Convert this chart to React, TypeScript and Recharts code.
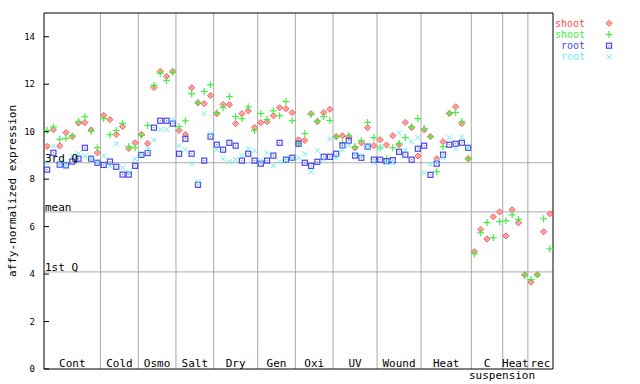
import React from "react";
import { ScatterChart, Scatter, XAxis, YAxis, ReferenceLine } from "recharts";

const GROUP_LABELS = ["Cont", "Cold", "Osmo", "Salt", "Dry", "Gen", "Oxi", "UV", "Wound", "Heat", "C suspension", "Heat", "rec"];
const GROUP_SIZES = [9, 6, 6, 6, 7, 6, 6, 7, 7, 8, 5, 4, 4];

const SHOOT_A = [
  9.38, 10.08, 9.4, 9.96, 9.79, 10.36, 10.38, 10.07, 9.11,
  10.69, 10.51, 9.88, 10.22, 9.29, 9.53,
  9.88, 9.5, 11.86, 12.54, 12.33, 12.54,
  10.05, 9.88, 11.85, 11.22, 11.18, 11.52,
  10.76, 11.14, 11.14, 10.34, 10.76, 10.88, 10.17,
  10.38, 10.42, 10.67, 11.01, 10.97, 10.8,
  9.66, 9.63, 10.76, 10.43, 10.8, 10.94,
  9.79, 9.83, 9.79, 9.32, 9.53, 10.17, 9.41,
  9.66, 9.44, 9.83, 9.45, 10.39, 10.17, 8.97,
  10.08, 9.79, 8.86, 9.58, 10.77, 11.05, 10.34, 8.86,
  4.94, 5.88, 5.48, 6.41, 6.62,
  5.61, 6.71, 6.16, 3.97,
  3.66, 3.97, 5.78, 6.54,
];
const SHOOT_B = [
  10.05, 10.2, 9.68, 9.72, 9.83, 10.43, 10.63, 10.02, 9.32,
  10.55, 9.87, 10.05, 10.35, 9.37, 9.32,
  9.84, 10.26, 11.95, 12.46, 12.16, 12.5,
  10.21, 10.46, 11.6, 11.22, 11.69, 11.98,
  10.8, 11.01, 11.48, 10.63, 10.55, 11.05, 10.04,
  10.76, 10.51, 10.88, 10.67, 11.27, 10.46,
  9.49, 9.92, 10.73, 10.44, 10.64, 10.47,
  9.79, 9.53, 9.83, 9.37, 9.62, 10.39, 9.75,
  9.32, 8.86, 9.32, 9.5, 9.75, 10.21, 10.55,
  10.13, 9.79, 8.31, 9.37, 10.77, 10.81, 10.42, 8.86,
  4.85, 5.74, 6.17, 5.53, 6.21,
  6.25, 6.5, 6.3, 3.94,
  3.77, 3.97, 6.33, 5.06,
];
const ROOT_A = [
  8.4, 9.11, 8.61, 8.58, 8.74, 8.86, 9.32, 8.86, 8.69,
  8.6, 8.74, 8.52, 8.19, 8.19, 8.56,
  9.02, 9.1, 10.17, 10.46, 10.46, 10.34,
  9.07, 9.7, 9.07, 7.76, 8.78, 9.79,
  9.45, 9.24, 9.53, 9.41, 8.78, 9.07, 8.78,
  8.65, 8.78, 8.99, 9.53, 8.82, 8.9,
  9.49, 8.69, 8.56, 8.73, 8.94, 8.94,
  9.07, 9.42, 9.62, 8.99, 8.9, 9.37, 8.82,
  8.82, 8.76, 8.8, 9.15, 9.03, 8.82, 9.28,
  9.41, 8.18, 8.65, 9.03, 9.45, 9.49, 9.53, 9.32,
];
const ROOT_B = [
  8.69, 9.4, 8.68, 8.6, 8.97, 9.08, 8.98, 8.86, 8.69,
  8.98, 8.55, 9.49, 8.48, 8.27, 8.85,
  9.02, 9.27, 9.66, 10.09, 10.09, 10.52,
  9.41, 9.24, 8.65, 7.89, 10.76, 9.91,
  9.24, 8.86, 8.73, 8.83, 9.0, 9.29, 9.2,
  8.78, 9.11, 8.56, 8.73, 8.78, 8.86,
  8.9, 9.07, 8.31, 9.2, 8.82, 9.7,
  8.89, 9.23, 9.42, 9.07, 8.97, 9.37, 8.69,
  9.32, 8.69, 8.69, 9.96, 9.23, 9.58, 9.75,
  8.27, 8.61, 8.75, 8.89, 9.75, 9.28, 9.79, 9.32,
];

const Y_TICKS = [0, 2, 4, 6, 8, 10, 12, 14];
const STAT_LABELS = ["3rd Q", "mean", "1st Q"];
const STAT_VALUES = [8.69, 6.62, 4.09];

const SERIES_NAMES = ["shoot", "shoot", "root", "root"];
const SERIES_COLORS = ["#ff4a4a", "#44ee44", "#4646f0", "#66f2f2"];
const SERIES_VALUES = [SHOOT_A, SHOOT_B, ROOT_A, ROOT_B];

const FONT = "'DejaVu Sans Mono', monospace";

// group centres (tick positions) and separators, in sample-index units
const groupCenters: number[] = [];
const groupEdges: number[] = [];
let start = 0;
GROUP_SIZES.forEach((n, i) => {
  groupCenters.push(start + (n - 1) / 2);
  start += n;
  if (i < GROUP_SIZES.length - 1) groupEdges.push(start - 0.5);
});
const N = start;

function marker(kind: number, cx: number, cy: number, color: string) {
  if (kind === 0) {
    return (
      <g>
        <polygon
          points={`${cx},${cy - 3} ${cx + 3},${cy} ${cx},${cy + 3} ${cx - 3},${cy}`}
          fill="#ffb4b4"
          stroke={color}
          strokeWidth={1}
        />
        <rect x={cx - 0.5} y={cy - 0.5} width={1} height={1} fill={color} />
      </g>
    );
  }
  if (kind === 1) {
    return (
      <g stroke={color} strokeWidth={1.2}>
        <line x1={cx - 3.5} x2={cx + 3.5} y1={cy} y2={cy} />
        <line x1={cx} x2={cx} y1={cy - 3.5} y2={cy + 3.5} />
      </g>
    );
  }
  if (kind === 2) {
    return (
      <g>
        <rect x={cx - 2.5} y={cy - 2.5} width={5} height={5} fill="none" stroke={color} strokeWidth={1.2} />
        <rect x={cx - 0.5} y={cy - 0.5} width={1} height={1} fill={color} />
      </g>
    );
  }
  return (
    <g stroke={color} strokeWidth={1}>
      <line x1={cx - 2.5} x2={cx + 2.5} y1={cy - 2.5} y2={cy + 2.5} />
      <line x1={cx - 2.5} x2={cx + 2.5} y1={cy + 2.5} y2={cy - 2.5} />
    </g>
  );
}

function GroupTick(props: any) {
  const { x, y, index } = props;
  const words = GROUP_LABELS[index].split(" ");
  return (
    <g>
      <text x={x} y={y - 2} textAnchor="middle" fontFamily={FONT} fontSize={11} fill="#000">
        {words[0]}
      </text>
      {words.length > 1 && (
        <text x={x + 15} y={y + 10} textAnchor="middle" fontFamily={FONT} fontSize={11} fill="#000">
          {words.slice(1).join(" ")}
        </text>
      )}
    </g>
  );
}

function LeftTick(props: any) {
  const { x, y, payload } = props;
  return (
    <g>
      <line x1={x} x2={x + 5} y1={y} y2={y} stroke="#000" />
      <text x={x - 9} y={y} dy="0.35em" textAnchor="end" fontFamily={FONT} fontSize={9} fill="#000">
        {payload.value}
      </text>
    </g>
  );
}

function RightTick(props: any) {
  const { x, y } = props;
  return <line x1={x - 5} x2={x} y1={y} y2={y} stroke="#000" />;
}

export default function App() {
  const series = SERIES_VALUES.map((vals) => vals.map((v, i) => ({ x: i, y: v })));

  return (
    <div style={{ position: "absolute", left: 0, top: 0, width: 640, height: 384, background: "#fff" }}>
      <ScatterChart width={640} height={384} margin={{ top: 13, right: 0, bottom: 0, left: 0 }}>
        <XAxis
          type="number"
          dataKey="x"
          domain={[-0.5, N - 0.5]}
          ticks={groupCenters}
          interval={0}
          height={15}
          tickSize={0}
          tickMargin={0}
          tickLine={false}
          axisLine={{ stroke: "#000" }}
          tick={<GroupTick />}
        />
        <YAxis
          type="number"
          dataKey="y"
          domain={[0, 15]}
          ticks={Y_TICKS}
          width={44}
          tickSize={0}
          tickMargin={0}
          tickLine={false}
          axisLine={{ stroke: "#000" }}
          tick={<LeftTick />}
        />
        <YAxis
          yAxisId="right"
          orientation="right"
          type="number"
          domain={[0, 15]}
          ticks={Y_TICKS}
          width={87}
          tickSize={0}
          tickMargin={0}
          tickLine={false}
          axisLine={{ stroke: "#000" }}
          tick={<RightTick />}
        />
        {groupEdges.map((e) => (
          <ReferenceLine key={`e${e}`} x={e} stroke="#aaaaaa" strokeWidth={1} />
        ))}
        {STAT_VALUES.map((v, i) => (
          <ReferenceLine
            key={`s${i}`}
            y={v}
            stroke="#aaaaaa"
            strokeWidth={1}
            label={{
              value: STAT_LABELS[i],
              position: "insideBottomLeft",
              offset: 1,
              fill: "#000",
              fontSize: 11,
              fontFamily: FONT,
            }}
          />
        ))}
        <ReferenceLine y={15} stroke="#000" strokeWidth={1} />
        {series.map((data, k) => (
          <Scatter
            key={k}
            name={SERIES_NAMES[k]}
            data={data}
            isAnimationActive={false}
            shape={(p: any) => marker(k, p.cx, p.cy, SERIES_COLORS[k])}
          />
        ))}
      </ScatterChart>
      <svg
        width={640}
        height={384}
        style={{ position: "absolute", left: 0, top: 0, pointerEvents: "none" }}
      >
        <text
          x={12}
          y={191}
          transform="rotate(-90 12 191)"
          textAnchor="middle"
          dominantBaseline="central"
          fontFamily={FONT}
          fontSize={11}
          fill="#000"
        >
          affy-normalized expression
        </text>
        {SERIES_NAMES.map((name, k) => (
          <g key={k}>
            <text
              x={585}
              y={26.8 + k * 11.2}
              textAnchor="end"
              fontFamily={FONT}
              fontSize={10}
              fill={SERIES_COLORS[k]}
            >
              {name}
            </text>
            {marker(k, 609, 23.3 + k * 11.2, SERIES_COLORS[k])}
          </g>
        ))}
      </svg>
    </div>
  );
}
